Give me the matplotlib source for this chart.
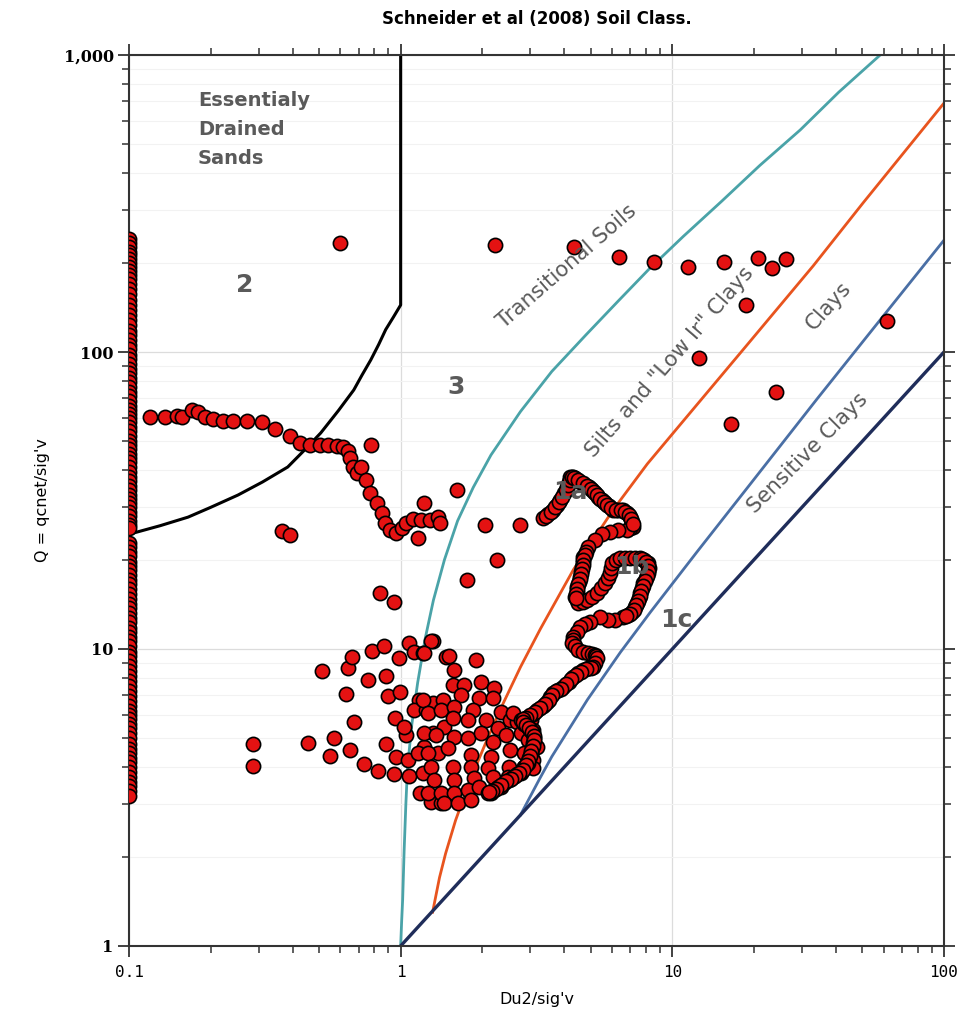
import numpy as np
import matplotlib
matplotlib.use("Agg")
import matplotlib.pyplot as plt
from matplotlib.ticker import LogLocator, FuncFormatter, NullFormatter

# ---- boundary lines (Du2/sig'v, Q) ----
zone2_u = [1.0, 1.0, 0.94, 0.881, 0.83, 0.776, 0.72, 0.672, 0.59, 0.508, 0.44, 0.384,
           0.31, 0.252, 0.2, 0.165, 0.13, 0.1043, 0.1]
zone2_q = [1000, 144, 131, 119, 106, 94.0, 83.5, 74.5, 63.5, 53.4, 46.5, 41.0,
           36.5, 33.0, 30.0, 27.8, 26.0, 24.6, 24.2]

trans_u = [1.0, 1.008, 1.017, 1.03, 1.045, 1.06, 1.10, 1.155, 1.23, 1.32, 1.45, 1.62,
           1.85, 2.15, 2.76, 3.6, 4.8, 6.3, 8.2, 10.97, 15.2, 21, 29.6, 41, 58.2]
trans_q = [1.0, 1.2, 1.43, 2.1, 3.0, 4.0, 5.6, 7.7, 10.8, 14.6, 20, 27,
           35, 45, 63, 86, 114, 148, 190, 245, 322, 425, 560, 750, 1000]

silt_u = [1.311, 1.39, 1.464, 1.593, 1.809, 2.089, 2.392, 2.762, 3.271, 4.325, 6.07,
          8.09, 10.7, 18.9, 33.0, 50.4, 100]
silt_q = [1.30, 1.70, 2.05, 2.65, 3.65, 5.0, 6.6, 8.7, 11.7, 18.5, 29.5,
          42, 57, 106, 195, 318, 689]

clay_u = [2.76, 2.93, 3.25, 3.6, 4.87, 6.44, 8.30, 12.36, 19.4, 34.1, 59.7, 100]
clay_q = [2.76, 3.06, 3.66, 4.34, 6.75, 9.75, 13.3, 21.3, 36.0, 69.5, 132, 238]

sens_u = [1.0, 100]
sens_q = [1.0, 100]

# ---- CPT data ----
# points with negative / tiny Du2 sit on the axis minimum
col_q = [240, 232, 225, 218, 212, 206, 200, 194, 188, 182, 176, 170, 163, 157, 150, 144,
         138, 133, 128, 123, 118, 114, 110, 106, 102, 98, 95, 91, 88, 85, 82, 79, 76, 73.5,
         71, 68.5, 66, 64, 62, 60, 58, 56, 54, 52, 50, 48.5, 47, 45.5, 44, 42.5, 41, 39.5,
         38, 36.7, 35.5, 34.2, 33, 32, 31, 30, 29, 28, 27, 26.2, 25.5, 22.7, 22, 21.2,
         20.5, 19.7, 19, 18.4, 17.8, 17.1, 16.5, 15.9, 15.3, 14.7, 14.2, 13.7, 13.2, 12.7,
         12.3, 11.8, 11.4, 11, 10.6, 10.2, 9.8, 9.45, 9.1, 8.75, 8.4, 8.1, 7.8, 7.5, 7.2,
         6.95, 6.7, 6.45, 6.2, 6.0, 5.8, 5.6, 5.4, 5.2, 5.0, 4.8, 4.6, 4.45, 4.3, 4.15, 4.0,
         3.85, 3.7, 3.57, 3.45, 3.32, 3.2]
col_u = [0.1] * len(col_q)

upper_u = [0.119, 0.136, 0.150, 0.157, 0.171, 0.180, 0.190, 0.204, 0.222, 0.241, 0.272,
           0.308, 0.344, 0.391, 0.426, 0.462, 0.503, 0.540, 0.582, 0.612, 0.638, 0.649,
           0.667, 0.689, 0.713, 0.743, 0.769, 0.817, 0.851, 0.873, 0.912, 0.960, 1.01,
           1.05, 1.11, 1.19, 1.28, 1.37, 1.39]
upper_q = [60.4, 60.4, 60.9, 60.4, 63.8, 62.8, 60.4, 59.5, 58.6, 58.6, 58.6, 58.1, 55.0,
           52.1, 49.4, 48.6, 48.6, 48.6, 48.3, 47.9, 46.4, 44.0, 41.0, 39.1, 41.0, 37.1,
           33.5, 31.0, 28.7, 26.6, 25.2, 24.6, 25.5, 26.6, 27.4, 27.2, 27.2, 27.8, 26.6]

scatter_u = [0.597, 2.22, 4.33, 6.38, 8.59, 11.45, 15.5, 20.7, 23.3, 26.2, 18.7, 12.5,
             24.1, 16.5, 61.7, 0.776, 1.22, 1.155, 0.365, 0.391, 1.61, 2.04, 2.74, 2.27,
             1.76, 0.838, 0.942]
scatter_q = [233, 229, 226, 209, 201, 193, 201, 207, 192, 206, 144, 95.4, 73.3, 57.2,
             127, 48.6, 31.0, 23.6, 25.0, 24.2, 34.3, 26.2, 26.2, 19.9, 17.1, 15.4, 14.4]

cluster_u = [0.512, 0.638, 0.661, 0.782, 0.866, 0.983, 1.07, 1.12, 1.205, 1.311, 0.756,
             0.881, 0.628, 0.896, 0.992, 0.672, 0.950, 0.455, 0.567, 0.649, 0.548, 0.881,
             0.731, 0.823, 0.943, 1.07, 0.958, 1.06, 1.205, 0.286, 0.286, 1.043, 1.03,
             1.165, 1.12, 1.235, 1.311, 1.427, 1.464, 1.18, 1.289, 1.403, 1.215, 1.368,
             1.155, 1.311, 1.439,
             1.289, 1.215, 1.501, 1.887, 1.566, 1.968, 2.197, 1.553, 1.705, 1.662, 1.935,
             2.179, 1.205, 1.257, 1.403, 1.566, 1.84, 2.332, 1.553, 1.763, 2.054, 2.273,
             2.537, 2.692, 1.215, 1.345, 1.566, 1.763, 1.968, 2.179, 2.432, 2.762, 2.931,
             1.257, 1.489, 1.809, 2.143, 2.537, 2.833, 3.083, 1.289, 1.553, 1.809, 2.089,
             2.495, 2.833, 3.083, 1.322, 1.566, 1.855, 2.179, 2.474, 2.762, 1.257, 1.403,
             1.566, 1.763, 1.935, 2.143, 2.332, 1.439, 1.62, 1.809, 2.602, 3.006, 3.083,
             3.189]
cluster_q = [8.43, 8.63, 9.40, 9.85, 10.2, 9.33, 10.5, 9.77, 9.69, 10.6, 7.87, 8.11,
             7.06, 6.95, 7.17, 5.68, 5.86, 4.83, 5.02, 4.57, 4.36, 4.79, 4.10, 3.88, 3.79,
             3.74, 4.33, 4.23, 3.82, 4.79, 4.04, 5.13, 5.46, 6.73, 6.23, 6.23, 6.58, 6.73,
             9.40, 3.27, 3.05, 3.03, 4.68, 4.46, 4.46, 5.21, 5.46,
             10.6, 9.69, 9.47, 9.18, 8.50, 7.74, 7.39, 7.56, 7.56, 7.00, 6.84, 6.84, 6.73,
             6.09, 6.23, 6.38, 6.23, 6.14, 5.86, 5.77, 5.77, 5.42, 5.77, 5.68, 5.21, 5.13,
             5.05, 5.02, 5.21, 4.86, 5.13, 5.21, 4.94, 4.46, 4.64, 4.40, 4.33, 4.57, 4.46,
             4.23, 4.01, 4.01, 4.01, 3.98, 4.01, 4.01, 3.98, 3.62, 3.62, 3.68, 3.71, 3.71,
             3.82, 3.27, 3.27, 3.27, 3.35, 3.43, 3.27, 3.43, 3.03, 3.03, 3.10, 6.09, 5.77,
             5.34, 4.68]

# deeper part of the sounding: the 1a / 1b loops and the run back down
loop_u = [3.355, 3.50, 3.652, 3.76, 3.875, 3.99, 4.111, 4.16, 4.217, 4.30, 4.400, 4.59,
          4.787, 4.93, 5.081, 5.21, 5.346, 5.51, 5.671, 5.87, 6.070, 6.33, 6.606, 6.80,
          7.009, 7.10, 7.189, 7.01, 6.833, 6.332, 5.917, 5.530, 5.212, 4.912, 4.81, 4.709,
          4.69, 4.669, 4.63, 4.590, 4.53, 4.475, 4.44, 4.400, 4.46, 4.513, 4.69, 4.870,
          5.08, 5.301, 5.48, 5.671, 5.79, 5.917, 5.97, 6.018, 6.23, 6.440, 6.72, 7.009,
          7.31, 7.628, 7.89, 8.163, 8.18, 8.163, 7.99, 7.825, 7.73, 7.628, 7.53, 7.437,
          7.28, 7.128, 6.86, 6.606, 6.173, 5.817, 5.437, 4.995, 4.79, 4.590, 4.45, 4.325,
          4.30, 4.289, 4.40, 4.513, 4.71, 4.912, 5.06, 5.212, 5.25, 5.301, 5.21, 5.124,
          4.91, 4.709, 4.51, 4.325, 4.15, 3.975, 3.81, 3.652, 3.56, 3.471, 3.33, 3.189,
          3.06, 2.931, 2.85, 2.762, 2.85, 2.931, 3.0, 3.083, 3.09, 3.083, 3.04, 3.006,
          2.97, 2.931, 2.85, 2.762, 2.68, 2.602, 2.50, 2.392, 2.29, 2.197, 2.14, 2.089]
loop_q = [27.6, 28.5, 29.4, 30.6, 31.8, 33.4, 35.1, 36.5, 37.9, 37.8, 37.6, 36.6,
          35.7, 35.0, 34.3, 33.4, 32.5, 31.7, 31.0, 30.2, 29.4, 29.4, 29.4, 28.6,
          27.8, 26.8, 25.8, 25.5, 25.2, 25.2, 24.8, 24.4, 23.3, 22.0, 21.2, 20.4,
          19.6, 18.9, 18.2, 17.5, 16.8, 16.2, 15.6, 15.0, 14.6, 14.3, 14.4, 14.6,
          15.0, 15.4, 16.0, 16.7, 17.3, 18.0, 18.7, 19.5, 19.9, 20.3, 20.3, 20.3,
          20.3, 20.3, 19.9, 19.5, 18.7, 18.0, 17.3, 16.7, 16.0, 15.4, 14.8, 14.3,
          13.8, 13.3, 13.0, 12.8, 12.5, 12.5, 12.8, 12.3, 12.1, 11.9, 11.4, 11.0,
          10.7, 10.5, 10.2, 9.92, 9.80, 9.69, 9.62, 9.55, 9.44, 9.33, 9.0, 8.70,
          8.60, 8.50, 8.27, 8.05, 7.74, 7.45, 7.28, 7.11, 6.87, 6.63, 6.43, 6.23,
          6.06, 5.90, 5.83, 5.77, 5.61, 5.46, 5.33, 5.21, 5.02, 4.83, 4.64, 4.46,
          4.29, 4.13, 3.99, 3.85, 3.78, 3.71, 3.62, 3.54, 3.44, 3.35, 3.31, 3.27]

# tightly packed readings inside the darkest stretches of the loops
dense_u = [3.43, 3.575, 3.705, 3.82, 3.93, 4.05, 4.135, 4.19, 4.26, 4.35, 4.49, 4.69,
           4.86, 5.0, 5.145, 5.28, 5.43, 5.59, 5.77, 5.97, 6.2, 6.47, 6.70, 6.90, 7.055,
           7.145,
           4.76, 4.70, 4.68, 4.65, 4.61, 4.56, 4.50, 4.46, 4.42, 4.43,
           7.76, 8.03, 8.17, 8.17, 8.08, 7.91, 7.78, 7.68, 7.58, 7.48, 7.36, 7.2, 6.99, 6.73,
           5.02, 4.81, 4.61, 4.42, 4.24, 4.06, 3.89, 3.73, 3.61, 3.515, 3.40, 3.26, 3.12,
           2.995, 2.89, 2.81, 2.81, 2.89, 2.965, 3.04, 3.087, 3.087, 3.06, 3.02, 2.99, 2.95,
           2.89, 2.81, 2.72, 2.64, 2.55, 2.45, 2.34, 2.24, 2.17, 2.11]
dense_q = [28.0, 28.95, 30.0, 31.2, 32.6, 34.2, 35.8, 37.2, 37.85, 37.7, 37.1, 36.1,
           35.35, 34.65, 33.85, 32.95, 32.1, 31.35, 30.6, 29.8, 29.4, 29.4, 29.0, 28.2,
           27.3, 26.3,
           20.8, 20.0, 19.25, 18.55, 17.85, 17.15, 16.5, 15.9, 15.3, 14.8,
           20.1, 19.7, 19.1, 18.35, 17.65, 17.0, 16.35, 15.7, 15.1, 14.55, 14.05, 13.55,
           13.15, 12.9,
           8.65, 8.55, 8.38, 8.16, 7.9, 7.6, 7.36, 7.2, 6.99, 6.75, 6.53, 6.33, 6.14,
           5.98, 5.86, 5.8, 5.69, 5.53, 5.4, 5.27, 5.11, 4.92, 4.73, 4.55, 4.37, 4.21,
           4.06, 3.92, 3.81, 3.74, 3.66, 3.58, 3.49, 3.39, 3.33, 3.29]

fig = plt.figure(figsize=(9.67, 10.10), dpi=100)
ax = fig.add_axes([0.1334, 0.0634, 0.8428, 0.8821])
ax.set_xscale("log")
ax.set_yscale("log")
ax.set_xlim(0.1, 100)
ax.set_ylim(1, 1000)

ax.grid(True, which="major", color="#dcdcdc", lw=0.9, zorder=0)
ax.grid(True, which="minor", axis="y", color="#f2f2f2", lw=0.8, zorder=0)

ax.plot(zone2_u, zone2_q, color="black", lw=2.2, zorder=2)
ax.plot(trans_u, trans_q, color="#4aa3a8", lw=2.0, zorder=2)
ax.plot(silt_u, silt_q, color="#e8541e", lw=2.0, zorder=2)
ax.plot(clay_u, clay_q, color="#4a6fa5", lw=2.0, zorder=2)
ax.plot(sens_u, sens_q, color="#1f2d5a", lw=2.4, zorder=2)

mk = dict(s=105, c="#e41212", edgecolors="black", linewidths=1.2, zorder=3)
ax.scatter(col_u, col_q, **mk)
ax.scatter(upper_u, upper_q, **mk)
ax.scatter(scatter_u, scatter_q, **mk)
ax.scatter(cluster_u, cluster_q, **mk)
ax.scatter(loop_u, loop_q, **mk)
ax.scatter(dense_u, dense_q, **mk)

gray = "#5a5a5a"
ax.text(0.0847, 0.960, "Essentialy\nDrained\nSands", transform=ax.transAxes, color=gray,
        fontsize=14, fontweight="bold", va="top", ha="left", linespacing=1.68, zorder=4)
for s, x, y in [("2", 0.142, 0.742), ("3", 0.401, 0.627), ("1a", 0.541, 0.510),
                ("1b", 0.617, 0.425), ("1c", 0.672, 0.366)]:
    ax.text(x, y, s, transform=ax.transAxes, color=gray, fontsize=18, fontweight="bold",
            ha="center", va="center", zorder=4)
for s, x, y, r in [("Transitional Soils", 0.537, 0.763, 41),
                   ('Silts and "Low Ir" Clays', 0.664, 0.655, 49),
                   ("Clays", 0.858, 0.718, 48),
                   ("Sensitive Clays", 0.833, 0.553, 45)]:
    ax.text(x, y, s, transform=ax.transAxes, color=gray, fontsize=15.3, rotation=r,
            ha="center", va="center", rotation_mode="anchor", zorder=4)

ax.xaxis.set_major_locator(LogLocator(base=10, numticks=10))
ax.yaxis.set_major_locator(LogLocator(base=10, numticks=10))
ax.xaxis.set_minor_locator(LogLocator(base=10, subs=np.arange(2, 10), numticks=20))
ax.yaxis.set_minor_locator(LogLocator(base=10, subs=np.arange(2, 10), numticks=20))
ax.xaxis.set_major_formatter(FuncFormatter(lambda v, p: "{:g}".format(v)))
ax.yaxis.set_major_formatter(FuncFormatter(lambda v, p: "{:,.0f}".format(v)))
ax.xaxis.set_minor_formatter(NullFormatter())
ax.yaxis.set_minor_formatter(NullFormatter())
ax.tick_params(which="both", direction="out", top=True, right=True, color="#333333")
ax.tick_params(which="major", length=8, width=1.3)
ax.tick_params(which="minor", length=5, width=1.1)
ax.tick_params(axis="x", labelsize=11.5, pad=6)
ax.tick_params(axis="y", labelsize=11.5, pad=3)
for lab in ax.get_xticklabels():
    lab.set_family("DejaVu Sans Mono")
for lab in ax.get_yticklabels():
    lab.set_family("DejaVu Serif")
    lab.set_fontweight("bold")
for sp in ax.spines.values():
    sp.set_color("#333333")
    sp.set_linewidth(1.5)

ax.set_xlabel("Du2/sig'v", fontsize=11.5, labelpad=8)
ax.set_ylabel("Q = qcnet/sig'v", fontsize=11.5, labelpad=10)
fig.suptitle("Schneider et al (2008) Soil Class.", x=0.555, y=0.99, fontsize=12,
             fontweight="bold")

fig.savefig("out.png", dpi=100)
